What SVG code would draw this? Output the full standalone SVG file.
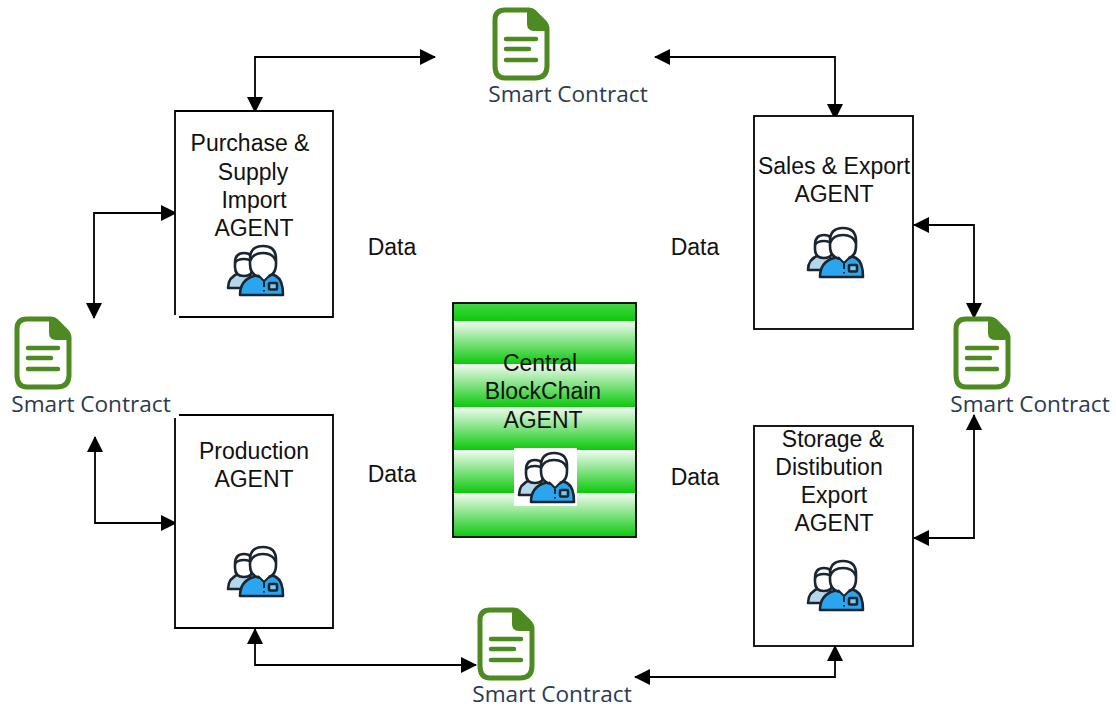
<svg xmlns="http://www.w3.org/2000/svg" xmlns:xlink="http://www.w3.org/1999/xlink" width="1116" height="709" viewBox="0 0 1116 709">
<style>
.box{fill:#fff;stroke:#000;stroke-width:1.8}
.t{font:23px "Liberation Sans",Arial,sans-serif;fill:#111;text-anchor:middle}
.sc{font:22.6px "Open Sans","Noto Sans",sans-serif;fill:#2c3a50;text-anchor:middle}
.c{fill:none;stroke:#000;stroke-width:1.8;marker-start:url(#a);marker-end:url(#a)}
</style>
<defs>
<marker id="a" viewBox="0 0 16 16" refX="15" refY="8" markerUnits="userSpaceOnUse" markerWidth="16" markerHeight="16" orient="auto-start-reverse"><path d="M0 0L16 8L0 16Z" fill="#000"/></marker>
<linearGradient id="g" x1="0" y1="0" x2="0" y2="1"><stop offset="0" stop-color="#f2fcf2"/><stop offset="1" stop-color="#0cc80c"/></linearGradient>
<linearGradient id="g0" x1="0" y1="0" x2="0" y2="1"><stop offset="0" stop-color="#45d845"/><stop offset="1" stop-color="#0cc80c"/></linearGradient>
<g id="doc">
<path d="M12 2H36Q39 2 41 4L51 14Q54 17 54 21V58Q54 70 42 70H12Q2 70 2 58V12Q2 2 12 2Z" fill="#fff" stroke="#4d8a22" stroke-width="5" stroke-linejoin="round"/>
<path d="M34 2L41 4L52 15L54 23H41Q34 23 34 16Z" fill="#4d8a22"/>
<path d="M13 31H43M13 41H36M13 52H43" stroke="#4d8a22" stroke-width="4.5" stroke-linecap="round"/>
</g>
<g id="ag" stroke="#1b2530" stroke-width="2.6" stroke-linejoin="round">
<path d="M2 43Q2 32 13 28L22 26L30 43Z" fill="#b5d7ea"/>
<path d="M9 18Q9 8 18 8Q27 8 27 18V22Q27 31 18 31Q9 31 9 22Z" fill="#fff"/>
<path d="M9 18Q11 14 18 14Q24 14 27 18" fill="none"/>
<path d="M14 50Q14 35 28 31L36 28H43L50 31Q57 35 57 50Z" fill="#2aa5ee"/>
<path d="M24 14Q24 1 37 1Q50 1 50 14V19Q50 32 37 32Q24 32 24 19Z" fill="#fff"/>
<path d="M24 16Q27 8 37 8Q47 8 50 16" fill="none"/>
<path d="M32 30L38 36L44 30" fill="#fff" stroke-width="2"/>
<path d="M38 37V42M38 45V46.5" fill="none" stroke-width="2"/>
<rect x="43" y="38" width="8" height="6.5" rx="1" fill="#7fc8f2"/>
</g>
</defs>
<g id="connectors">
<path class="c" d="M255 112V57H435"/>
<path class="c" d="M655 57H835V119"/>
<path class="c" d="M176 213H94V318"/>
<path class="c" d="M176 523H95V437"/>
<path class="c" d="M255 629V665H476"/>
<path class="c" d="M635 677H835V646"/>
<path class="c" d="M914 225H974V318"/>
<path class="c" d="M914 538H974V415"/>
</g>
<g id="purchase">
<path class="box" d="M175 315V111H333V317H179"/>
<text class="t"><tspan x="250" y="151">Purchase &amp;</tspan><tspan x="253" y="180">Supply</tspan><tspan x="254" y="208">Import</tspan><tspan x="254" y="236">AGENT</tspan></text>
<use href="#ag" xlink:href="#ag" x="226" y="245"/>
</g>
<g id="production">
<path class="box" d="M179 415H333V628H175V418"/>
<text class="t"><tspan x="254" y="459">Production</tspan><tspan x="254" y="487">AGENT</tspan></text>
<use href="#ag" xlink:href="#ag" x="226" y="546"/>
</g>
<g id="sales">
<rect class="box" x="754" y="116" width="159" height="213"/>
<text class="t"><tspan x="834" y="174">Sales &amp; Export</tspan><tspan x="834" y="202">AGENT</tspan></text>
<use href="#ag" xlink:href="#ag" x="806" y="227"/>
</g>
<g id="storage">
<rect class="box" x="754" y="426" width="159" height="220"/>
<text class="t"><tspan x="833" y="447">Storage &amp;</tspan><tspan x="829" y="475">Distibution</tspan><tspan x="834" y="503">Export</tspan><tspan x="834" y="531">AGENT</tspan></text>
<use href="#ag" xlink:href="#ag" x="806" y="560"/>
</g>
<g id="central">
<rect x="453" y="303" width="183" height="18" fill="url(#g0)"/>
<rect x="453" y="321" width="183" height="43" fill="url(#g)"/>
<rect x="453" y="364" width="183" height="43" fill="url(#g)"/>
<rect x="453" y="407" width="183" height="43" fill="url(#g)"/>
<rect x="453" y="450" width="183" height="43" fill="url(#g)"/>
<rect x="453" y="493" width="183" height="44" fill="url(#g)"/>
<rect x="453" y="303" width="183" height="234" fill="none" stroke="#000" stroke-width="1.8"/>
<text class="t"><tspan x="540" y="371">Central</tspan><tspan x="543" y="399">BlockChain</tspan><tspan x="543" y="428">AGENT</tspan></text>
<rect x="514" y="448" width="63" height="58" fill="#fff"/>
<use href="#ag" xlink:href="#ag" x="517" y="452"/>
</g>
<g id="contract-top"><use href="#doc" xlink:href="#doc" x="493" y="8"/><text class="sc" x="568" y="102">Smart Contract</text></g>
<g id="contract-left"><use href="#doc" xlink:href="#doc" x="15" y="317"/><text class="sc" x="91" y="412">Smart Contract</text></g>
<g id="contract-right"><use href="#doc" xlink:href="#doc" x="954" y="317"/><text class="sc" x="1030" y="412">Smart Contract</text></g>
<g id="contract-bottom"><use href="#doc" xlink:href="#doc" x="478" y="608"/><text class="sc" x="552" y="702">Smart Contract</text></g>
<g id="data-labels">
<text class="t" x="392" y="255">Data</text><text class="t" x="695" y="255">Data</text><text class="t" x="392" y="482">Data</text><text class="t" x="695" y="485">Data</text>
</g>
</svg>
